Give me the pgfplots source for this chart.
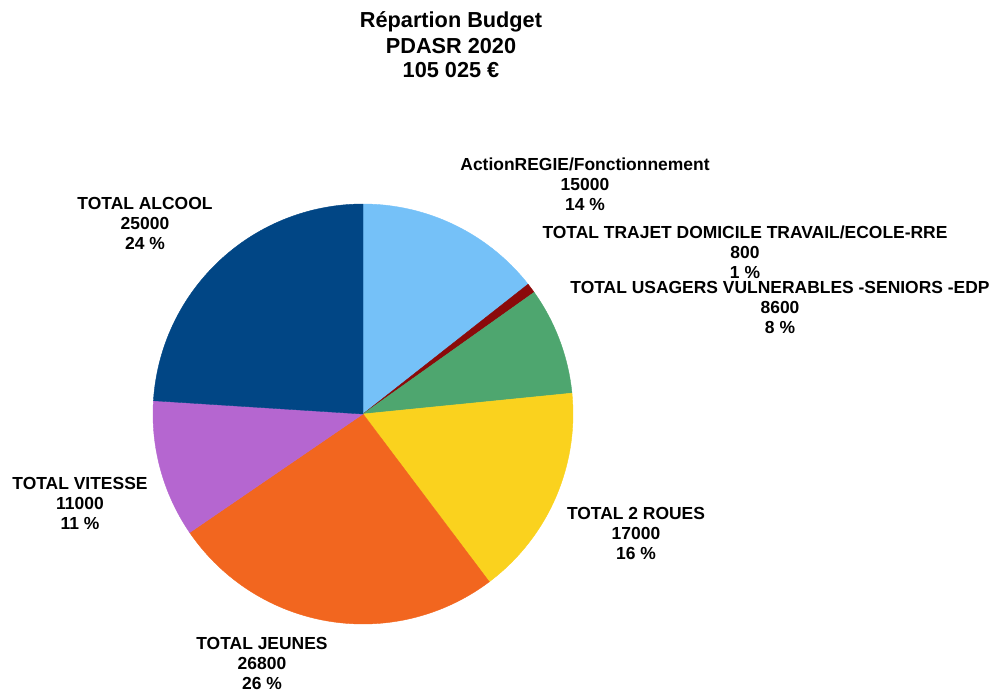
\documentclass[border=0pt]{standalone}
\usepackage{pgfplots}
\pgfplotsset{compat=1.18}
\usepackage{pgfplotstable}
\usepackage{fontspec}
\setmainfont{Liberation Sans}

\pgfplotstableread{
idx value
0 15000
1 800
2 8600
3 17000
4 26800
5 11000
6 25000
}\piedata

\definecolor{c0}{HTML}{75C1F8}
\definecolor{c1}{HTML}{8B0A0A}
\definecolor{c2}{HTML}{4EA66F}
\definecolor{c3}{HTML}{FAD21E}
\definecolor{c4}{HTML}{F2661F}
\definecolor{c5}{HTML}{B566D0}
\definecolor{c6}{HTML}{014685}

\gdef\total{0}
\foreach \i in {0,...,6}{%
  \pgfplotstablegetelem{\i}{value}\of\piedata
  \xdef\total{\fpeval{\total+\pgfplotsretval}}%
}
\gdef\cum{0}
\foreach \i in {0,...,6}{%
  \pgfplotstablegetelem{\i}{value}\of\piedata
  \expandafter\xdef\csname sA\i\endcsname{\fpeval{90-360*\cum/\total}}%
  \xdef\cum{\fpeval{\cum+\pgfplotsretval}}%
  \expandafter\xdef\csname sB\i\endcsname{\fpeval{90-360*\cum/\total}}%
}

\newcommand\pieslice[1]{%
  \edef\tmpplot{\noexpand\addplot[fill=c#1, draw=c#1, line width=0.4pt,
    domain=\csname sB#1\endcsname:\csname sA#1\endcsname, samples=90, variable=\noexpand\t]}%
  \tmpplot ({363+210*cos(\t)},{414-210*sin(\t)}) -- (axis cs:363,414) -- cycle;%
}
\newcommand\lab[5]{%
  \node[anchor=base, inner sep=0pt, font=\fontsize{17.45}{20}\selectfont\bfseries] at (axis cs:#1,#2+6) {#3};
  \node[anchor=base, inner sep=0pt, font=\fontsize{17.45}{20}\selectfont\bfseries] at (axis cs:#1,#2+26) {#4};
  \node[anchor=base, inner sep=0pt, font=\fontsize{17.45}{20}\selectfont\bfseries] at (axis cs:#1,#2+46) {#5};
}

\begin{document}
\begin{tikzpicture}
\begin{axis}[
  width=995pt, height=693pt, scale only axis,
  xmin=0, xmax=995, ymin=0, ymax=693, y dir=reverse,
  hide axis, clip=false,
]
\path (axis cs:0,0) rectangle (axis cs:995,693);
\pieslice{0}
\pieslice{1}
\pieslice{2}
\pieslice{3}
\pieslice{4}
\pieslice{5}
\pieslice{6}

\node[anchor=base, inner sep=0pt, font=\fontsize{21.7}{24}\selectfont\bfseries] at (axis cs:451,27.5) {Répartion Budget};
\node[anchor=base, inner sep=0pt, font=\fontsize{21.7}{24}\selectfont\bfseries] at (axis cs:451,53.5) {PDASR 2020};
\node[anchor=base, inner sep=0pt, font=\fontsize{21.7}{24}\selectfont\bfseries] at (axis cs:451,77.5) {105 025 €};

\lab{585}{164}{ActionREGIE/Fonctionnement}{15000}{14 \%}
\lab{745}{232}{TOTAL TRAJET DOMICILE TRAVAIL/ECOLE-RRE}{800}{1 \%}
\lab{780}{287.5}{TOTAL USAGERS VULNERABLES -SENIORS -EDP}{8600}{8 \%}
\lab{636}{513}{TOTAL 2 ROUES}{17000}{16 \%}
\lab{262}{643}{TOTAL JEUNES}{26800}{26 \%}
\lab{80}{483}{TOTAL VITESSE}{11000}{11 \%}
\lab{145}{203}{TOTAL ALCOOL}{25000}{24 \%}
\end{axis}
\end{tikzpicture}
\end{document}
